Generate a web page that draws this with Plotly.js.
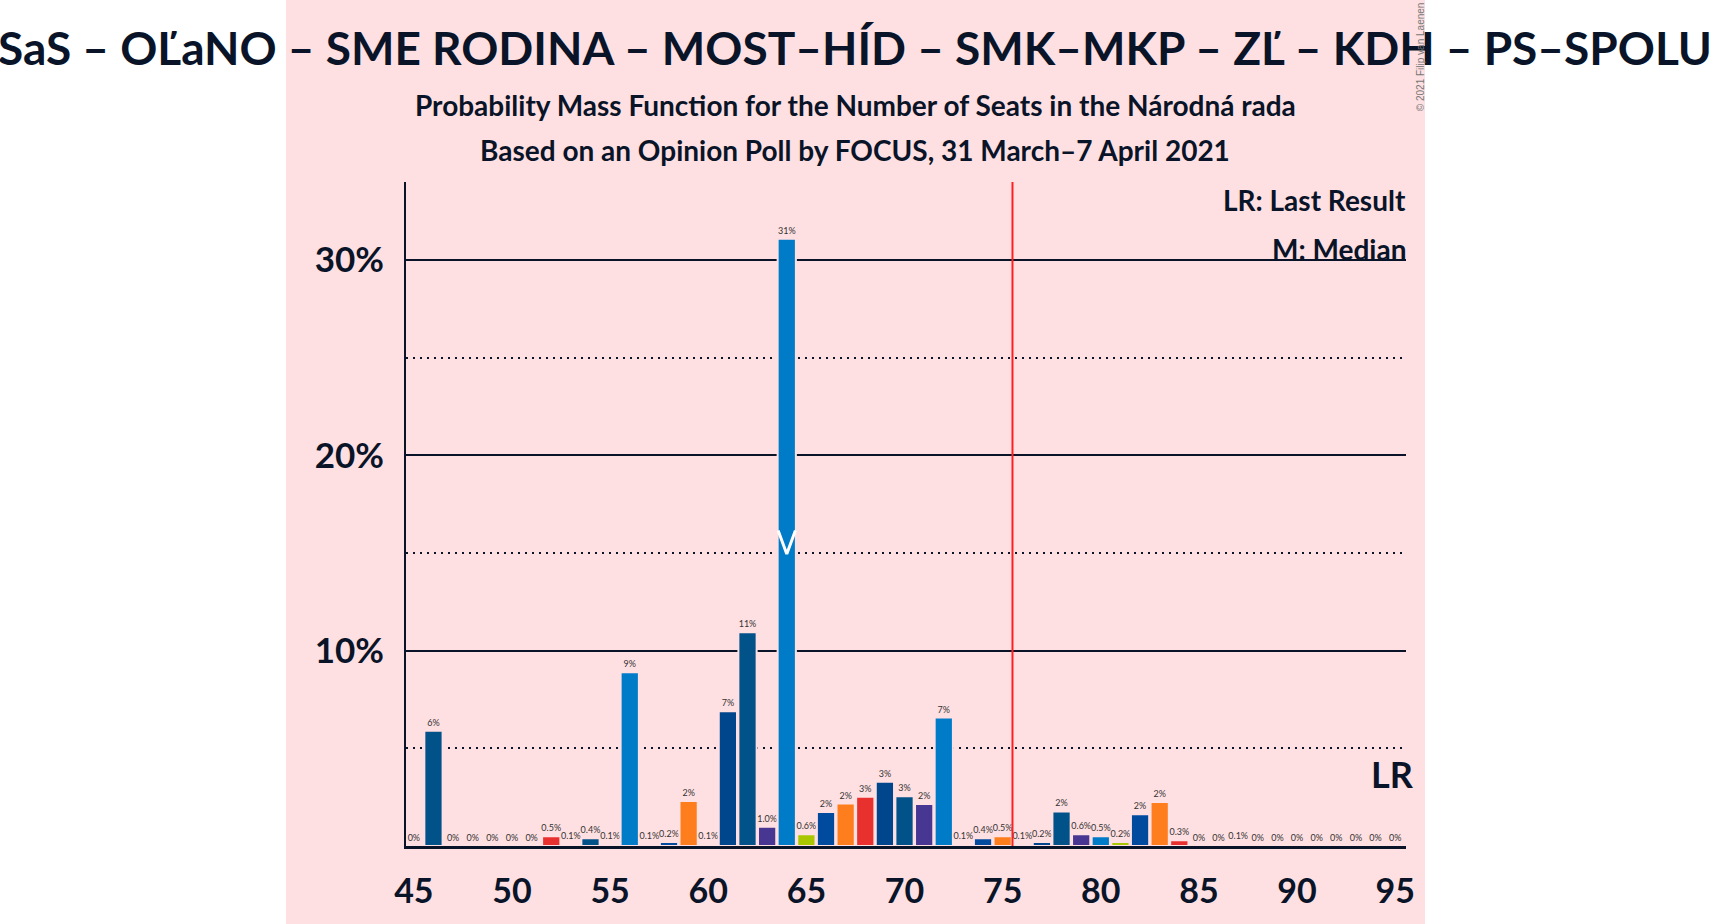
<!DOCTYPE html>
<html>
<head>
<meta charset="utf-8">
<script src="https://cdn.plot.ly/plotly-3.0.1.min.js"></script>
<style>
  body { margin: 0; background: #fff; }
  #chart { width: 1710px; height: 924px; }
</style>
</head>
<body>
<div id="chart"></div>
<script>
// seats and probabilities (%)
var seats = [];
for (var s = 45; s <= 95; s++) seats.push(s);

var probs = [
  0, 5.9, 0, 0, 0, 0, 0, 0.5, 0.1, 0.4,      // 45-54
  0.1, 8.9, 0.1, 0.2, 2.3, 0.1, 6.9, 10.95, 0.98, 31.1, // 55-64
  0.6, 1.74, 2.17, 2.52, 3.29, 2.55, 2.15, 6.58, 0.1, 0.4, // 65-74
  0.5, 0.1, 0.2, 1.77, 0.6, 0.5, 0.2, 1.62, 2.25, 0.3,   // 75-84
  0, 0, 0.1, 0, 0, 0, 0, 0, 0, 0, 0          // 85-95
];

// party colours, bars cycle through them seat by seat
var palette = ['#A8C700', '#004B9E', '#FE7E1E', '#E8302F', '#00468C', '#02528A', '#483792', '#007BC8'];

var yTicks = [10, 20, 30];
var yTickText = ['10%', '20%', '30%'];

var majority = 76;
var titleText = 'SaS – OĽaNO – SME RODINA – MOST–HÍD – SMK–MKP – ZĽ – KDH – PS–SPOLU';
var subtitle1 = 'Probability Mass Function for the Number of Seats in the Národná rada';
var subtitle2 = 'Based on an Opinion Poll by FOCUS, 31 March–7 April 2021';

var pink = '#FFE0E2';
var ink = '#0A1428';

function label(v) {
  if (v === 0) return '0%';
  if (v < 1) return v.toFixed(1) + '%';
  return Math.round(v) + '%';
}

var colors = seats.map(function (s) { return palette[(s - 65 + 800) % 8]; });

// median seat from the cumulative distribution
var total = probs.reduce(function (a, b) { return a + b; }, 0);
var cum = 0, median = seats[0], medianVal = 0;
for (var i = 0; i < seats.length; i++) {
  cum += probs[i];
  if (cum >= total / 2) { median = seats[i]; medianVal = probs[i]; break; }
}

var bars = {
  type: 'bar',
  x: seats,
  y: probs,
  text: probs.map(label),
  textposition: 'outside',
  cliponaxis: false,
  constraintext: 'none',
  textfont: { family: 'Lato', size: 9, color: '#333' },
  marker: { color: colors, line: { color: pink, width: 2 } },
  hoverinfo: 'x+y'
};

var mid = medianVal / 2;
var medianMark = {
  type: 'scatter',
  mode: 'lines',
  x: [median - 0.44, median, median + 0.44],
  y: [mid + 0.6, mid - 0.6, mid + 0.6],
  line: { color: '#fff', width: 3 },
  hoverinfo: 'skip'
};

var layout = {
  width: 1710,
  height: 924,
  margin: { l: 406, r: 304, t: 182, b: 78 },
  paper_bgcolor: '#fff',
  plot_bgcolor: 'rgba(0,0,0,0)',
  showlegend: false,
  bargap: 0.07,
  font: { family: 'Lato', color: ink },
  title: {
    text: titleText,
    xref: 'container', x: 0.5, xanchor: 'center',
    yref: 'container', y: 0.947, yanchor: 'middle',
    font: { family: 'Lato', size: 46, weight: 700, color: ink }
  },
  xaxis: {
    range: [44.6, 95.55],
    tickmode: 'linear', tick0: 45, dtick: 5,
    ticks: '',
    showgrid: false,
    zeroline: false,
    showline: true, linecolor: ink, linewidth: 3,
    tickfont: { family: 'Lato', size: 34, weight: 700, color: ink },
    ticklabelstandoff: 13
  },
  yaxis: {
    range: [0, 34.0],
    tickmode: 'array', tickvals: yTicks, ticktext: yTickText,
    ticks: '',
    showgrid: true, gridcolor: ink, gridwidth: 2,
    minor: { tickmode: 'array', tickvals: [5, 15, 25], showgrid: true, gridcolor: ink, gridwidth: 2, griddash: '2px,5px' },
    zeroline: false,
    showline: true, linecolor: ink, linewidth: 2,
    tickfont: { family: 'Lato', size: 35, weight: 700, color: ink },
    ticklabelstandoff: 13
  },
  shapes: [
    { type: 'rect', xref: 'paper', yref: 'paper', x0: -0.12, x1: 1.019, y0: -0.12, y1: 1.28,
      fillcolor: pink, line: { width: 0 }, layer: 'below' },
    { type: 'line', xref: 'x', yref: 'paper', x0: majority - 0.5, x1: majority - 0.5, y0: 0, y1: 1,
      line: { color: '#FF2020', width: 2 } }
  ],
  annotations: [
    { text: subtitle1, xref: 'paper', yref: 'paper', x: 0.449, y: 1.116, xanchor: 'center', yanchor: 'middle',
      showarrow: false, font: { family: 'Lato', size: 28, weight: 700, color: ink } },
    { text: subtitle2, xref: 'paper', yref: 'paper', x: 0.449, y: 1.0475, xanchor: 'center', yanchor: 'middle',
      showarrow: false, font: { family: 'Lato', size: 28, weight: 700, color: ink } },
    { text: 'LR: Last Result', xref: 'paper', yref: 'paper', x: 1.002, y: 0.973, xanchor: 'right', yanchor: 'middle',
      showarrow: false, font: { family: 'Lato', size: 28, weight: 700, color: ink } },
    { text: 'M: Median', xref: 'paper', yref: 'paper', x: 1.002, y: 0.899, xanchor: 'right', yanchor: 'middle',
      showarrow: false, font: { family: 'Lato', size: 28, weight: 700, color: ink } },
    { text: 'LR', xref: 'paper', yref: 'paper', x: 1.01, y: 0.108, xanchor: 'right', yanchor: 'middle',
      showarrow: false, font: { family: 'Lato', size: 36, weight: 700, color: ink } },
    { text: '© 2021 Filip van Laenen', xref: 'paper', yref: 'paper', x: 1.014, y: 1.188, xanchor: 'center', yanchor: 'middle',
      textangle: -90, showarrow: false, font: { family: 'Liberation Sans', size: 10, color: '#777' } }
  ]
};

Plotly.newPlot('chart', [bars, medianMark], layout, { displayModeBar: false, staticPlot: true });
</script>
</body>
</html>
